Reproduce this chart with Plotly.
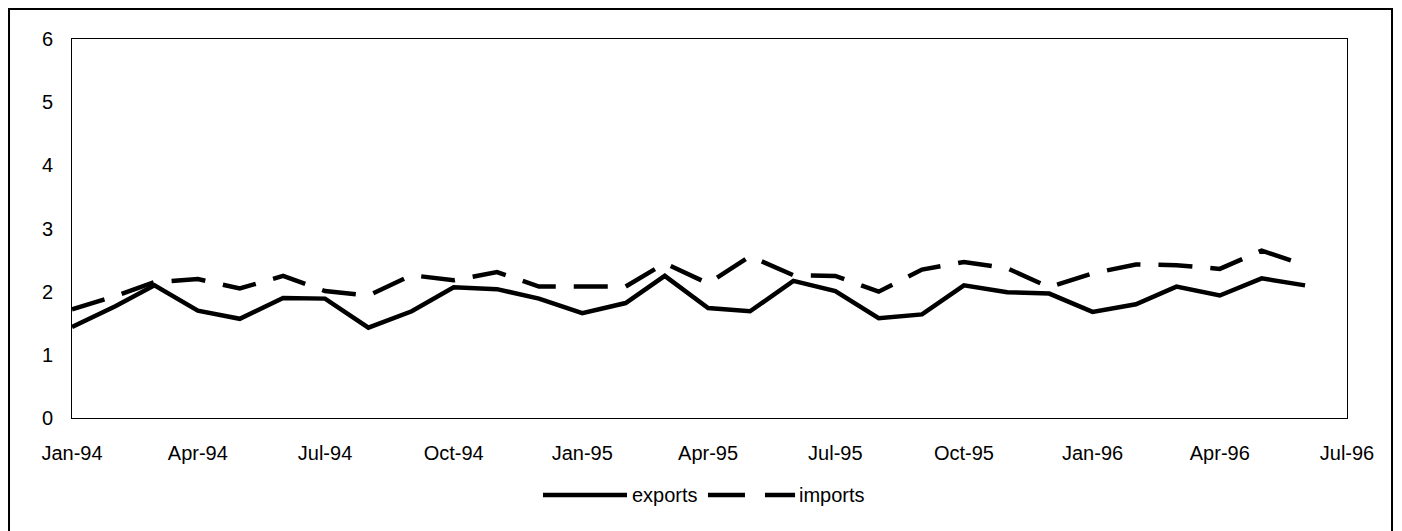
import plotly.graph_objects as go

months = [
    "1994-01-01", "1994-02-01", "1994-03-01", "1994-04-01", "1994-05-01", "1994-06-01",
    "1994-07-01", "1994-08-01", "1994-09-01", "1994-10-01", "1994-11-01", "1994-12-01",
    "1995-01-01", "1995-02-01", "1995-03-01", "1995-04-01", "1995-05-01", "1995-06-01",
    "1995-07-01", "1995-08-01", "1995-09-01", "1995-10-01", "1995-11-01", "1995-12-01",
    "1996-01-01", "1996-02-01", "1996-03-01", "1996-04-01", "1996-05-01", "1996-06-01",
]

exports = [1.44, 1.77, 2.10, 1.70, 1.57, 1.90, 1.89, 1.43, 1.69, 2.07, 2.04, 1.89,
           1.66, 1.82, 2.25, 1.74, 1.69, 2.17, 2.01, 1.58, 1.64, 2.10, 1.99, 1.97,
           1.68, 1.80, 2.08, 1.94, 2.21, 2.10]

imports = [1.72, 1.93, 2.15, 2.20, 2.05, 2.25, 2.01, 1.94, 2.26, 2.18, 2.31, 2.08,
           2.08, 2.08, 2.45, 2.13, 2.56, 2.26, 2.25, 2.00, 2.35, 2.47, 2.37, 2.07,
           2.29, 2.43, 2.42, 2.36, 2.65, 2.42]

tick_dates = ["1994-01-01", "1994-04-01", "1994-07-01", "1994-10-01", "1995-01-01",
              "1995-04-01", "1995-07-01", "1995-10-01", "1996-01-01", "1996-04-01",
              "1996-07-01"]
tick_labels = ["Jan-94", "Apr-94", "Jul-94", "Oct-94", "Jan-95", "Apr-95", "Jul-95",
               "Oct-95", "Jan-96", "Apr-96", "Jul-96"]

FONT = "Liberation Sans, Arial, sans-serif"
FS = 20

fig = go.Figure()
fig.add_trace(go.Scatter(x=months, y=exports, mode="lines", name="exports",
                         line=dict(color="black", width=4.5)))
fig.add_trace(go.Scatter(x=months, y=imports, mode="lines", name="imports",
                         line=dict(color="black", width=4.5, dash="34px,18px")))

fig.update_layout(
    width=1394, height=523,
    margin=dict(l=64, r=55, t=31, b=113),
    paper_bgcolor="white", plot_bgcolor="white",
    showlegend=False,
    font=dict(family=FONT, size=FS, color="black"),
    xaxis=dict(type="date", range=["1994-01-01", "1996-07-01"],
               tickvals=tick_dates, ticktext=tick_labels,
               showgrid=False, zeroline=False,
               showline=True, linecolor="black", linewidth=1, mirror=True,
               ticks="", ticklabelstandoff=17),
    yaxis=dict(range=[0, 6], dtick=1, tick0=0,
               showgrid=False, zeroline=False,
               showline=True, linecolor="black", linewidth=1, mirror=True,
               ticks="", ticklabelstandoff=14),
    shapes=[
        # outer chart border (bottom edge runs off the page, as in the source)
        dict(type="rect", xref="paper", yref="paper",
             x0=-0.0494, x1=1.0353, y0=-0.33, y1=1.0792,
             line=dict(color="black", width=2), fillcolor="rgba(0,0,0,0)"),
        # legend keys
        dict(type="line", xref="paper", yref="paper",
             x0=0.3694, x1=0.4353, y0=-0.203, y1=-0.203,
             line=dict(color="black", width=4.5)),
        dict(type="line", xref="paper", yref="paper",
             x0=0.4988, x1=0.5671, y0=-0.203, y1=-0.203,
             line=dict(color="black", width=4.5, dash="37px,20px")),
    ],
    annotations=[
        dict(text="exports", xref="paper", yref="paper", x=0.4376, y=-0.203,
             xanchor="left", yanchor="middle", showarrow=False,
             font=dict(family=FONT, size=FS, color="black")),
        dict(text="imports", xref="paper", yref="paper", x=0.5686, y=-0.203,
             xanchor="left", yanchor="middle", showarrow=False,
             font=dict(family=FONT, size=FS, color="black")),
    ],
)

fig.write_html("out.html")
